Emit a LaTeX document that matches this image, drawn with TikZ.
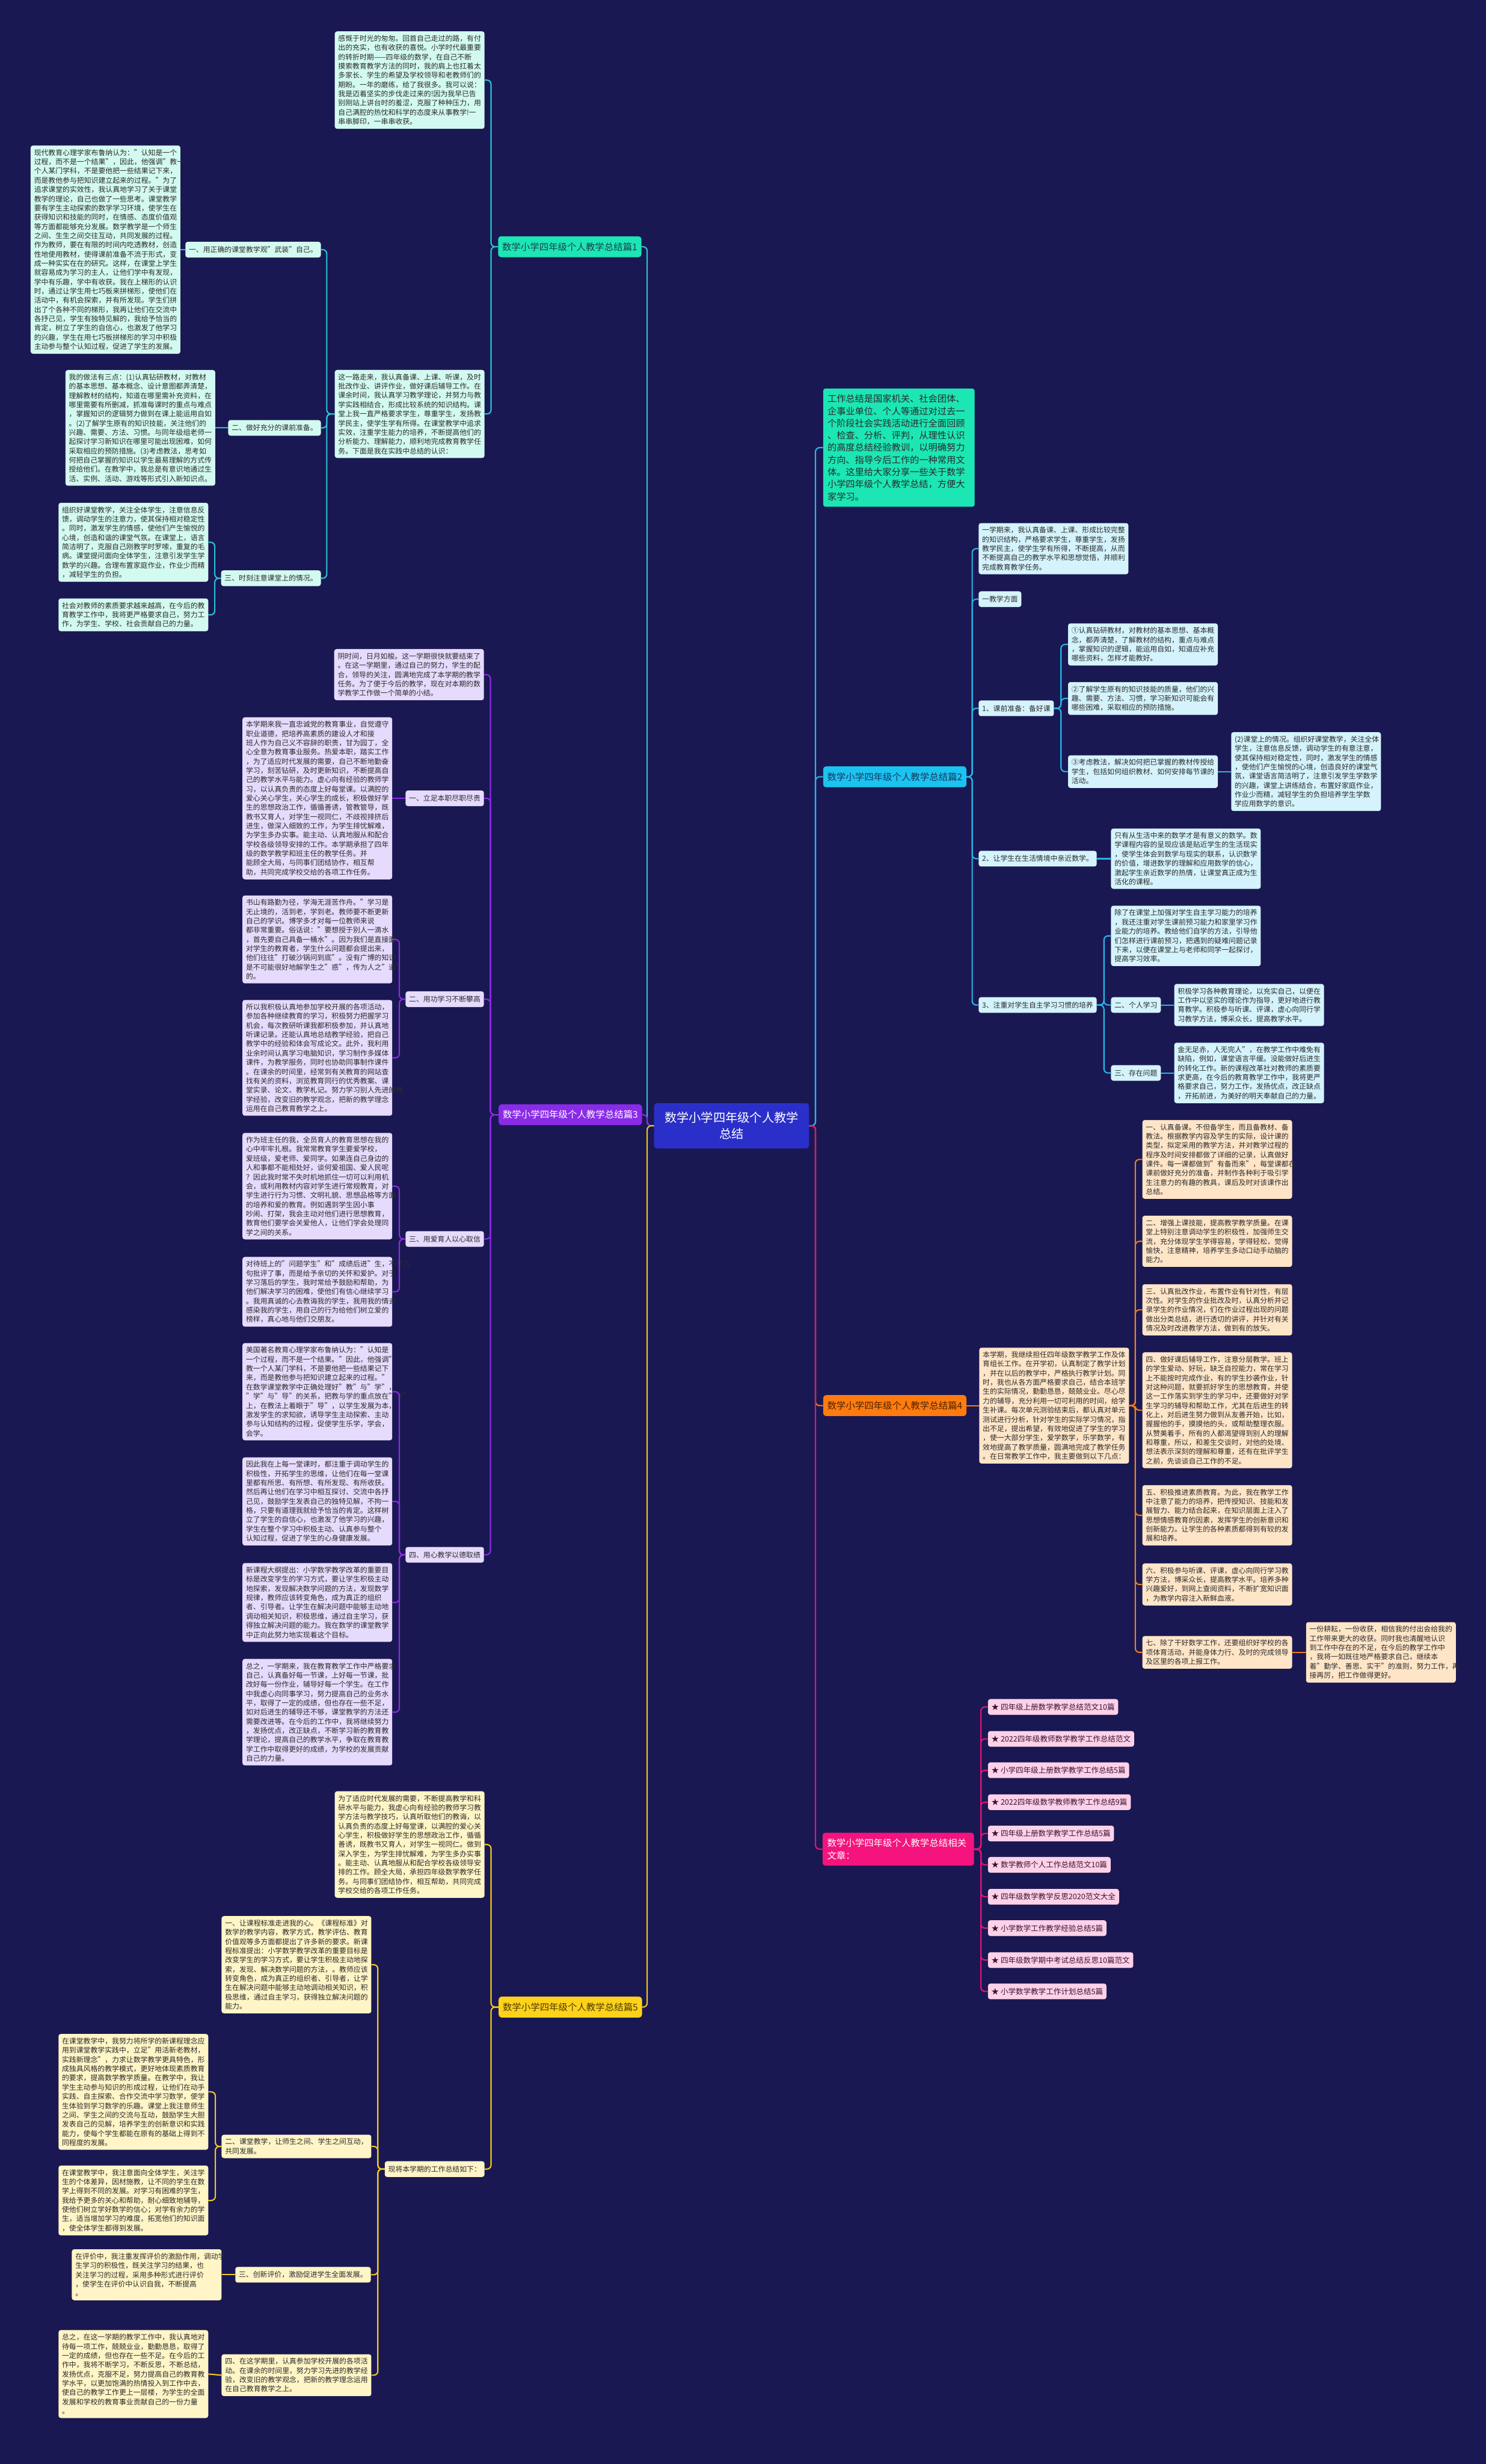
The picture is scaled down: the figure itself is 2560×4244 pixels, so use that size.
\documentclass[tikz,border=0pt]{standalone}
\usepackage{fontspec}
\setmainfont{Noto Sans CJK SC}
\definecolor{bg}{HTML}{1A1852}
\definecolor{tx}{HTML}{2B2B2B}
\definecolor{cen}{HTML}{2B2FC9}
% branch 1 (teal)
\definecolor{brA}{HTML}{1CE6B4}
\definecolor{bxA}{HTML}{D3FAF0}
\definecolor{lnA}{HTML}{2BC2D6}
\definecolor{tA}{HTML}{1E3E4E}
% branch 2 (blue)
\definecolor{brB}{HTML}{1BC3F0}
\definecolor{bxB}{HTML}{D4F3FC}
\definecolor{lnB}{HTML}{27B6E8}
\definecolor{tB}{HTML}{17375E}
% branch 3 (purple)
\definecolor{brC}{HTML}{8A2BE8}
\definecolor{bxC}{HTML}{E6DBFD}
\definecolor{lnC}{HTML}{8A2BE8}
% branch 4 (orange)
\definecolor{brD}{HTML}{FF7B0F}
\definecolor{bxD}{HTML}{FFE5C8}
\definecolor{lnD}{HTML}{F07E1E}
\definecolor{tD}{HTML}{4A2200}
% related (magenta)
\definecolor{brE}{HTML}{F5137D}
\definecolor{bxE}{HTML}{FDD2E8}
\definecolor{lnE}{HTML}{E0157A}
\definecolor{tE}{HTML}{3A1030}
% branch 5 (yellow)
\definecolor{brF}{HTML}{FFD21A}
\definecolor{bxF}{HTML}{FFF5C6}
\definecolor{lnF}{HTML}{F2C81E}
\definecolor{tF}{HTML}{4A3A00}
\newcommand{\fb}{\fontsize{12.3pt}{15.9pt}\selectfont}
\newcommand{\fbr}{\fontsize{16pt}{21pt}\selectfont}
\newcommand{\fit}{\fontsize{13pt}{16pt}\selectfont}
\newcommand{\fgr}{\fontsize{15.8pt}{21pt}\selectfont}
\newcommand{\fcn}{\fontsize{21pt}{28pt}\selectfont}
\tikzset{
  bx/.style={rounded corners=4pt, inner xsep=6pt, inner ysep=6.5pt, align=left, text width=246pt, font=\fb, text=tx},
  lb/.style={rounded corners=4pt, inner xsep=6pt, inner ysep=0pt, minimum height=27pt, font=\fb, text=tx},
  brn/.style={rounded corners=5pt, inner xsep=7pt, inner ysep=0pt, minimum height=36pt, font=\fbr},
  itm/.style={rounded corners=4pt, inner xsep=6pt, inner ysep=0pt, minimum height=27pt, font=\fit, text=tE, fill=bxE},
  eA/.style={draw=lnA, line width=2.2pt, rounded corners=7pt},
  eB/.style={draw=lnB, line width=2.2pt, rounded corners=7pt},
  eC/.style={draw=lnC, line width=2.2pt, rounded corners=7pt},
  eD/.style={draw=lnD, line width=2.2pt, rounded corners=7pt},
  eE/.style={draw=lnE, line width=2.2pt, rounded corners=7pt},
  eF/.style={draw=lnF, line width=2.2pt, rounded corners=7pt},
}
\begin{document}
\begin{tikzpicture}[x=1pt,y=-1pt]
\fill[bg] (0,0) rectangle (2560,4244);
\useasboundingbox (0,0) rectangle (2560,4244);

% spines
\coordinate (sL) at (1115,0);
\coordinate (sR) at (1405,0);
\coordinate (s1) at (846,0);
\coordinate (sA) at (563,0);
\coordinate (sB) at (370,0);
\coordinate (s3) at (845,0);
\coordinate (s3k) at (688,0);
\coordinate (s2) at (1675,0);
\coordinate (s2c) at (1828,0);
\coordinate (s2e) at (1902,0);
\coordinate (s4) at (1956,0);
\coordinate (sr) at (1690,0);
\coordinate (s5) at (846,0);
\coordinate (s5e) at (651,0);
\coordinate (s5f) at (371,0);

% center
\node[fill=cen, text=white, rounded corners=5pt, minimum width=267pt, minimum height=78pt, align=center, font=\fcn, inner sep=0pt] (c) at (1260.5,1939) {数学小学四年级个人教学\\总结};

% ================= Branch 1 =================
\node[brn, fill=brA, text=tA, anchor=west] (b1) at (858,425) {数学小学四年级个人教学总结篇1};
\node[bx, fill=bxA, anchor=east] (T1) at (835,138) {感慨于时光的匆匆。回首自己走过的路，有付\\出的充实，也有收获的喜悦。小学时代最重要\\的转折时期——四年级的数学，在自己不断\\摸索教育教学方法的同时，我的肩上也扛着太\\多家长、学生的希望及学校领导和老教师们的\\期盼。一年的磨练，给了我很多。我可以说：\\我是迈着坚实的步伐走过来的!因为我早已告\\别刚站上讲台时的羞涩，克服了种种压力，用\\自己满腔的热忱和科学的态度来从事教学!一\\串串脚印，一串串收获。};
\node[bx, fill=bxA, anchor=east] (T2) at (835,713) {这一路走来，我认真备课、上课、听课，及时\\批改作业、讲评作业，做好课后辅导工作。在\\课余时间，我认真学习教学理论，并努力与教\\学实践相结合，形成比较系统的知识结构。课\\堂上我一直严格要求学生，尊重学生，发扬教\\学民主，使学生学有所得。在课堂教学中追求\\实效，注重学生能力的培养，不断提高他们的\\分析能力、理解能力，顺利地完成教育教学任\\务。下面是我在实践中总结的认识：};
\node[lb, fill=bxA, anchor=east] (a1) at (553,430) {一、用正确的课堂教学观"武装"自己。};
\node[lb, fill=bxA, anchor=east] (a2) at (553,737) {二、做好充分的课前准备。};
\node[lb, fill=bxA, anchor=east] (a3) at (553,996) {三、时刻注意课堂上的情况。};
\node[bx, fill=bxA, anchor=east] (L1) at (311,430) {现代教育心理学家布鲁纳认为："认知是一个\\过程，而不是一个结果"，因此，他强调"教一\\个人某门学科，不是要他把一些结果记下来，\\而是教他参与把知识建立起来的过程。"为了\\追求课堂的实效性，我认真地学习了关于课堂\\教学的理论，自己也做了一些思考。课堂教学\\要有学生主动探索的数学学习环境，使学生在\\获得知识和技能的同时，在情感、态度价值观\\等方面都能够充分发展。数学教学是一个师生\\之间、生生之间交往互动，共同发展的过程。\\作为教师，要在有限的时间内吃透教材，创造\\性地使用教材，使得课前准备不流于形式，变\\成一种实实在在的研究。这样，在课堂上学生\\就容易成为学习的主人，让他们学中有发现，\\学中有乐趣，学中有收获。我在上梯形的认识\\时，通过让学生用七巧板来拼梯形，使他们在\\活动中，有机会探索，并有所发现。学生们拼\\出了个各种不同的梯形，我再让他们在交流中\\各抒己见，学生有独特见解的，我给予恰当的\\肯定，树立了学生的自信心，也激发了他学习\\的兴趣，学生在用七巧板拼梯形的学习中积极\\主动参与整个认知过程，促进了学生的发展。};
\node[bx, fill=bxA, anchor=east] (L2) at (371,737) {我的做法有三点：(1)认真钻研教材，对教材\\的基本思想、基本概念、设计意图都弄清楚，\\理解教材的结构，知道在哪里需补充资料，在\\哪里需要有所删减，抓准每课时的重点与难点\\，掌握知识的逻辑努力做到在课上能运用自如\\。(2)了解学生原有的知识技能，关注他们的\\兴趣、需要、方法、习惯。与同年级组老师一\\起探讨学习新知识在哪里可能出现困难，如何\\采取相应的预防措施。(3)考虑教法，思考如\\何把自己掌握的知识以学生最易理解的方式传\\授给他们。在教学中，我总是有意识地通过生\\活、实例、活动、游戏等形式引入新知识点。};
\node[bx, fill=bxA, anchor=east] (L3a) at (359,934) {组织好课堂教学，关注全体学生，注意信息反\\馈，调动学生的注意力，使其保持相对稳定性\\。同时，激发学生的情感，使他们产生愉悦的\\心境，创造和谐的课堂气氛。在课堂上，语言\\简洁明了，克服自己刚教学时罗嗦，重复的毛\\病。课堂提问面向全体学生，注意引发学生学\\数学的兴趣。合理布置家庭作业，作业少而精\\，减轻学生的负担。};
\node[bx, fill=bxA, anchor=east] (L3b) at (359,1059) {社会对教师的素质要求越来越高，在今后的教\\育教学工作中，我将更严格要求自己，努力工\\作，为学生、学校、社会贡献自己的力量。};

% ================= Branch 3 =================
\node[brn, fill=brC, text=white, anchor=west] (b3) at (859,1920) {数学小学四年级个人教学总结篇3};
\node[bx, fill=bxC, anchor=east] (P0) at (834,1162) {阴时间，日月如梭。这一学期很快就要结束了\\。在这一学期里，通过自己的努力，学生的配\\合，领导的关注，圆满地完成了本学期的教学\\任务。为了便于今后的教学，现在对本期的数\\学教学工作做一个简单的小结。};
\node[lb, fill=bxC, anchor=east] (k1) at (834,1375) {一、立足本职尽职尽责};
\node[lb, fill=bxC, anchor=east] (k2) at (834,1721) {二、用功学习不断攀高};
\node[lb, fill=bxC, anchor=east] (k3) at (834,2134) {三、用爱育人以心取信};
\node[lb, fill=bxC, anchor=east] (k4) at (834,2678) {四、用心教学以德取绩};
\node[bx, fill=bxC, anchor=east] (B31) at (676,1375) {本学期来我一直忠诚党的教育事业，自觉遵守\\职业道德，把培养高素质的建设人才和接\\班人作为自己义不容辞的职责，甘为园丁，全\\心全意为教育事业服务。热爱本职，踏实工作\\，为了适应时代发展的需要，自己不断地勤奋\\学习，刻苦钻研，及时更新知识，不断提高自\\己的教学水平与能力。虚心向有经验的教师学\\习，以认真负责的态度上好每堂课。以满腔的\\爱心关心学生，关心学生的成长，积极做好学\\生的思想政治工作，循循善诱，管教管导，既\\教书又育人，对学生一视同仁，不歧视排挤后\\进生，做深入细致的工作，为学生排忧解难，\\为学生多办实事。能主动、认真地服从和配合\\学校各级领导安排的工作。本学期承担了四年\\级的数学教学和班主任的教学任务。并\\能顾全大局，与同事们团结协作，相互帮\\助，共同完成学校交给的各项工作任务。};
\node[bx, fill=bxC, anchor=east] (B32a) at (676,1618) {书山有路勤为径，学海无涯苦作舟。"学习是\\无止境的，活到老，学到老。教师要不断更新\\自己的学识。博学多才对每一位教师来说\\都非常重要。俗话说："要想授于别人一滴水\\，首先要自己具备一桶水"。因为我们是直接面\\对学生的教育者，学生什么问题都会提出来，\\他们往往"打破沙锅问到底"。没有广博的知识\\是不可能很好地解学生之"惑"，传为人之"道"\\的。};
\node[bx, fill=bxC, anchor=east] (B32b) at (676,1822) {所以我积极认真地参加学校开展的各项活动，\\参加各种继续教育的学习，积极努力把握学习\\机会，每次教研听课我都积极参加，并认真地\\听课记录。还能认真地总结教学经验，把自己\\教学中的经验和体会写成论文。此外，我利用\\业余时间认真学习电脑知识，学习制作多媒体\\课件，为教学服务，同时也协助同事制作课件\\。在课余的时间里，经常到有关教育的网站查\\找有关的资料，浏览教育同行的优秀教案、课\\堂实录、论文、教学札记。努力学习别人先进的教\\学经验，改变旧的教学观念，把新的教学理念\\运用在自己教育教学之上。};
\node[bx, fill=bxC, anchor=east] (B33a) at (676,2043) {作为班主任的我，全员育人的教育思想在我的\\心中牢牢扎根。我常常教育学生要爱学校，\\爱班级，爱老师、爱同学。如果连自己身边的\\人和事都不能相处好，谈何爱祖国、爱人民呢\\？因此我时常不失时机地抓住一切可以利用机\\会，或利用教材内容对学生进行常规教育，对\\学生进行行为习惯、文明礼貌、思想品格等方面\\的培养和爱的教育。例如遇到学生因小事\\吵闹、打架，我会主动对他们进行思想教育，\\教育他们要学会关爱他人，让他们学会处理同\\学之间的关系。};
\node[bx, fill=bxC, anchor=east] (B33b) at (676,2225) {对待班上的"问题学生"和"成绩后进"生，不是几\\句批评了事，而是给予亲切的关怀和爱护。对于\\学习落后的学生，我时常给予鼓励和帮助，为\\他们解决学习的困难，使他们有信心继续学习\\。我用真诚的心去教诲我的学生，我用我的情去\\感染我的学生，用自己的行为给他们树立爱的\\榜样，真心地与他们交朋友。};
\node[bx, fill=bxC, anchor=east] (B34a) at (676,2397) {美国著名教育心理学家布鲁纳认为："认知是\\一个过程，而不是一个结果。"因此，他强调"\\教一个人某门学科，不是要他把一些结果记下\\来，而是教他参与把知识建立起来的过程。"\\在数学课堂教学中正确处理好"教"与"学"，\\"学"与"导"的关系，把教与学的重点放在"学"\\上，在教法上着眼于"导"，以学生发展为本，\\激发学生的求知欲，诱导学生主动探索、主动\\参与认知结构的过程，促使学生乐学，学会，\\会学。};
\node[bx, fill=bxC, anchor=east] (B34b) at (676,2586) {因此我在上每一堂课时，都注重于调动学生的\\积极性，开拓学生的思维，让他们在每一堂课\\里都有所思、有所想、有所发现、有所收获。\\然后再让他们在学习中相互探讨、交流中各抒\\己见，鼓励学生发表自己的独特见解，不拘一\\格，只要有道理我就给予恰当的肯定。这样树\\立了学生的自信心，也激发了他学习的兴趣，\\学生在整个学习中积极主动、认真参与整个\\认知过程，促进了学生的心身健康发展。};
\node[bx, fill=bxC, anchor=east] (B34c) at (676,2760) {新课程大纲提出：小学数学教学改革的重要目\\标是改变学生的学习方式，要让学生积极主动\\地探索，发现解决数学问题的方法，发现数学\\规律，教师应该转变角色，成为真正的组织\\者、引导者。让学生在解决问题中能够主动地\\调动相关知识，积极思维，通过自主学习，获\\得独立解决问题的能力。我在数学的课堂教学\\中正向此努力地实现着这个目标。};
\node[bx, fill=bxC, anchor=east] (B34d) at (676,2949) {总之，一学期来，我在教育教学工作中严格要求\\自己，认真备好每一节课，上好每一节课，批\\改好每一份作业，辅导好每一个学生。在工作\\中我虚心向同事学习，努力提高自己的业务水\\平，取得了一定的成绩，但也存在一些不足，\\如对后进生的辅导还不够，课堂教学的方法还\\需要改进等。在今后的工作中，我将继续努力\\，发扬优点，改正缺点，不断学习新的教育教\\学理论，提高自己的教学水平，争取在教育教\\学工作中取得更好的成绩，为学校的发展贡献\\自己的力量。};

% ================= Branch 2 =================
\node[fill=brA, text=tx, rounded corners=4pt, inner xsep=7.5pt, inner ysep=10.5pt, align=left, text width=246pt, font=\fgr, anchor=west] (G) at (1418,771) {工作总结是国家机关、社会团体、\\企事业单位、个人等通过对过去一\\个阶段社会实践活动进行全面回顾\\、检查、分析、评判，从理性认识\\的高度总结经验教训，以明确努力\\方向、指导今后工作的一种常用文\\体。这里给大家分享一些关于数学\\小学四年级个人教学总结，方便大\\家学习。};
\node[brn, fill=brB, text=tB, anchor=west] (b2) at (1418,1338) {数学小学四年级个人教学总结篇2};
\node[bx, fill=bxB, anchor=west] (C1) at (1686,945) {一学期来，我认真备课、上课、形成比较完整\\的知识结构，严格要求学生，尊重学生，发扬\\教学民主，使学生学有所得，不断提高，从而\\不断提高自己的教学水平和思想觉悟，并顺利\\完成教育教学任务。};
\node[lb, fill=bxB, anchor=west] (C2) at (1686,1032) {一教学方面};
\node[lb, fill=bxB, anchor=west] (C3) at (1686,1220) {1、课前准备：备好课};
\node[bx, fill=bxB, anchor=west] (C3a) at (1840,1110) {①认真钻研教材，对教材的基本思想、基本概\\念，都弄清楚，了解教材的结构，重点与难点\\，掌握知识的逻辑，能运用自如，知道应补充\\哪些资料，怎样才能教好。};
\node[bx, fill=bxB, anchor=west] (C3b) at (1840,1203) {②了解学生原有的知识技能的质量，他们的兴\\趣、需要、方法、习惯，学习新知识可能会有\\哪些困难，采取相应的预防措施。};
\node[bx, fill=bxB, anchor=west] (C3c) at (1840,1329) {③考虑教法，解决如何把已掌握的教材传授给\\学生，包括如何组织教材、如何安排每节课的\\活动。};
\node[bx, fill=bxB, anchor=west] (C3d) at (2121,1329) {(2)课堂上的情况。组织好课堂教学，关注全体\\学生，注意信息反馈，调动学生的有意注意，\\使其保持相对稳定性，同时，激发学生的情感\\，使他们产生愉悦的心境，创造良好的课堂气\\氛，课堂语言简洁明了，注意引发学生学数学\\的兴趣，课堂上讲练结合，布置好家庭作业，\\作业少而精，减轻学生的负担培养学生学数\\学应用数学的意识。};
\node[lb, fill=bxB, anchor=west] (C4) at (1686,1479) {2、让学生在生活情境中亲近数学。};
\node[bx, fill=bxB, anchor=west] (C4a) at (1914,1479) {只有从生活中来的数学才是有意义的数学。数\\学课程内容的呈现应该是贴近学生的生活现实\\，使学生体会到数学与现实的联系，认识数学\\的价值，增进数学的理解和应用数学的信心，\\激起学生亲近数学的热情，让课堂真正成为生\\活化的课程。};
\node[lb, fill=bxB, anchor=west] (C5) at (1686,1731) {3、注重对学生自主学习习惯的培养};
\node[bx, fill=bxB, anchor=west] (C5a) at (1914,1612) {除了在课堂上加强对学生自主学习能力的培养\\，我还注重对学生课前预习能力和家里学习作\\业能力的培养。教给他们自学的方法，引导他\\们怎样进行课前预习，把遇到的疑难问题记录\\下来，以便在课堂上与老师和同学一起探讨，\\提高学习效率。};
\node[lb, fill=bxB, anchor=west] (C5b) at (1914,1731) {二、个人学习};
\node[lb, fill=bxB, anchor=west] (C5c) at (1914,1848) {三、存在问题};
\node[bx, fill=bxB, anchor=west] (C5bx) at (2023,1731) {积极学习各种教育理论，以充实自己，以便在\\工作中以坚实的理论作为指导，更好地进行教\\育教学。积极参与听课、评课，虚心向同行学\\习教学方法，博采众长，提高教学水平。};
\node[bx, fill=bxB, anchor=west] (C5cx) at (2023,1848) {金无足赤，人无完人"，在教学工作中难免有\\缺陷，例如，课堂语言平缓。没能做好后进生\\的转化工作。新的课程改革社对教师的素质要\\求更高，在今后的教育教学工作中，我将更严\\格要求自己，努力工作，发扬优点，改正缺点\\，开拓前进，为美好的明天奉献自己的力量。};

% ================= Branch 4 =================
\node[brn, fill=brD, text=tD, anchor=west] (b4) at (1418,2421) {数学小学四年级个人教学总结篇4};
\node[bx, fill=bxD, anchor=west] (D0) at (1687,2421) {本学期，我继续担任四年级数学教学工作及体\\育组长工作。在开学初，认真制定了教学计划\\，并在以后的教学中，严格执行教学计划。同\\时，我也从各方面严格要求自己，结合本班学\\生的实际情况，勤勤恳恳，兢兢业业。尽心尽\\力的辅导，充分利用一切可利用的时间，给学\\生补课。每次单元测验结束后，都认真对单元\\测试进行分析，针对学生的实际学习情况，指\\出不足，提出希望，有效地促进了学生的学习\\，使一大部分学生，爱学数学，乐学数学，有\\效地提高了教学质量，圆满地完成了教学任务\\。在日常教学工作中，我主要做到以下几点：};
\node[bx, fill=bxD, anchor=west] (D1) at (1968,1997) {一、认真备课。不但备学生，而且备教材、备\\教法。根据教学内容及学生的实际，设计课的\\类型，拟定采用的教学方法，并对教学过程的\\程序及时间安排都做了详细的记录，认真做好\\课件。每一课都做到"有备而来"，每堂课都在\\课前做好充分的准备，并制作各种利于吸引学\\生注意力的有趣的教具，课后及时对该课作出\\总结。};
\node[bx, fill=bxD, anchor=west] (D2) at (1968,2138) {二、增强上课技能，提高教学教学质量。在课\\堂上特别注意调动学生的积极性，加强师生交\\流，充分体现学生学得容易，学得轻松，觉得\\愉快，注意精神，培养学生多动口动手动脑的\\能力。};
\node[bx, fill=bxD, anchor=west] (D3) at (1968,2256) {三、认真批改作业，布置作业有针对性，有层\\次性。对学生的作业批改及时，认真分析并记\\录学生的作业情况，们在作业过程出现的问题\\做出分类总结，进行透切的讲评，并针对有关\\情况及时改进教学方法，做到有的放矢。};
\node[bx, fill=bxD, anchor=west] (D4) at (1968,2429) {四、做好课后辅导工作，注意分层教学。班上\\的学生爱动、好玩，缺乏自控能力，常在学习\\上不能按时完成作业，有的学生抄袭作业，针\\对这种问题，就要抓好学生的思想教育，并使\\这一工作落实到学生的学习中，还要做好对学\\生学习的辅导和帮助工作，尤其在后进生的转\\化上，对后进生努力做到从友善开始，比如，\\握握他的手，摸摸他的头，或帮助整理衣服。\\从赞美着手，所有的人都渴望得到别人的理解\\和尊重，所以，和差生交谈时，对他的处境、\\想法表示深刻的理解和尊重，还有在批评学生\\之前，先谈谈自己工作的不足。};
\node[bx, fill=bxD, anchor=west] (D5) at (1968,2610) {五、积极推进素质教育。为此，我在教学工作\\中注意了能力的培养，把传授知识、技能和发\\展智力、能力结合起来，在知识层面上注入了\\思想情感教育的因素，发挥学生的创新意识和\\创新能力。让学生的各种素质都得到有较的发\\展和培养。};
\node[bx, fill=bxD, anchor=west] (D6) at (1968,2729) {六、积极参与听课、评课，虚心向同行学习教\\学方法，博采众长，提高教学水平。培养多种\\兴趣爱好，到网上查阅资料，不断扩宽知识面\\，为教学内容注入新鲜血液。};
\node[bx, fill=bxD, anchor=west] (D7) at (1968,2846) {七、除了干好数学工作，还要组织好学校的各\\项体育活动，并能身体力行、及时的完成领导\\及区里的各项上报工作。};
\node[bx, fill=bxD, anchor=west] (D7c) at (2250,2846) {一份耕耘，一份收获，相信我的付出会给我的\\工作带来更大的收获。同时我也清醒地认识\\到工作中存在的不足，在今后的教学工作中\\，我将一如既往地严格要求自己，继续本\\着"勤学、善思、实干"的准则，努力工作，再\\接再厉，把工作做得更好。};

% ================= Related =================
\node[fill=brE, text=white, rounded corners=5pt, inner xsep=8pt, inner ysep=10.5pt, align=left, text width=245pt, font=\fbr, anchor=west] (rel) at (1417,3185) {数学小学四年级个人教学总结相关\\文章：};
\node[itm, anchor=west] (r1) at (1702,2940) {★ 四年级上册数学教学总结范文10篇};
\node[itm, anchor=west] (r2) at (1702,2995) {★ 2022四年级教师数学教学工作总结范文};
\node[itm, anchor=west] (r3) at (1702,3049) {★ 小学四年级上册数学教学工作总结5篇};
\node[itm, anchor=west] (r4) at (1702,3104) {★ 2022四年级数学教师教学工作总结9篇};
\node[itm, anchor=west] (r5) at (1702,3158) {★ 四年级上册数学教学工作总结5篇};
\node[itm, anchor=west] (r6) at (1702,3212) {★ 数学教师个人工作总结范文10篇};
\node[itm, anchor=west] (r7) at (1702,3267) {★ 四年级数学教学反思2020范文大全};
\node[itm, anchor=west] (r8) at (1702,3321) {★ 小学数学工作教学经验总结5篇};
\node[itm, anchor=west] (r9) at (1702,3376) {★ 四年级数学期中考试总结反思10篇范文};
\node[itm, anchor=west] (r10) at (1702,3430) {★ 小学数学教学工作计划总结5篇};

% ================= Branch 5 =================
\node[brn, fill=brF, text=tF, anchor=west] (b5) at (859,3457) {数学小学四年级个人教学总结篇5};
\node[bx, fill=bxF, anchor=east] (E0) at (835,3177) {为了适应时代发展的需要，不断提高教学和科\\研水平与能力，我虚心向有经验的教师学习教\\学方法与教学技巧，认真听取他们的教诲，以\\认真负责的态度上好每堂课，以满腔的爱心关\\心学生，积极做好学生的思想政治工作，循循\\善诱，既教书又育人，对学生一视同仁。做到\\深入学生，为学生排忧解难，为学生多办实事\\。能主动、认真地服从和配合学校各级领导安\\排的工作。顾全大局，承担四年级数学教学任\\务。与同事们团结协作，相互帮助，共同完成\\学校交给的各项工作任务。};
\node[lb, fill=bxF, anchor=east] (E1) at (835,3736) {现将本学期的工作总结如下：};
\node[bx, fill=bxF, anchor=east] (E1a) at (640,3384) {一、让课程标准走进我的心。《课程标准》对\\数学的教学内容，教学方式，教学评估、教育\\价值观等多方面都提出了许多新的要求。新课\\程标准提出：小学数学教学改革的重要目标是\\改变学生的学习方式，要让学生积极主动地探\\索，发现、解决数学问题的方法，。教师应该\\转变角色，成为真正的组织者、引导者，让学\\生在解决问题中能够主动地调动相关知识，积\\极思维，通过自主学习，获得独立解决问题的\\能力。};
\node[bx, fill=bxF, anchor=east] (E1b) at (640,3697) {二、课堂教学，让师生之间、学生之间互动，\\共同发展。};
\node[lb, fill=bxF, anchor=east] (E1c) at (639,3918) {三、创新评价，激励促进学生全面发展。};
\node[bx, fill=bxF, anchor=east] (E1d) at (640,4091) {四、在这学期里，认真参加学校开展的各项活\\动。在课余的时间里，努力学习先进的教学经\\验，改变旧的教学观念，把新的教学理念运用\\在自己教育教学之上。};
\node[bx, fill=bxF, anchor=east] (F1) at (359,3603) {在课堂教学中，我努力将所学的新课程理念应\\用到课堂教学实践中，立足"用活新老教材，\\实践新理念"，力求让数学教学更具特色，形\\成独具风格的教学模式，更好地体现素质教育\\的要求，提高数学教学质量。在教学中，我让\\学生主动参与知识的形成过程，让他们在动手\\实践、自主探索、合作交流中学习数学，使学\\生体验到学习数学的乐趣。课堂上我注意师生\\之间、学生之间的交流与互动，鼓励学生大胆\\发表自己的见解，培养学生的创新意识和实践\\能力，使每个学生都能在原有的基础上得到不\\同程度的发展。};
\node[bx, fill=bxF, anchor=east] (F2) at (359,3790) {在课堂教学中，我注意面向全体学生，关注学\\生的个体差异，因材施教，让不同的学生在数\\学上得到不同的发展。对学习有困难的学生，\\我给予更多的关心和帮助，耐心细致地辅导，\\使他们树立学好数学的信心；对学有余力的学\\生，适当增加学习的难度，拓宽他们的知识面\\，使全体学生都得到发展。};
\node[bx, fill=bxF, anchor=east] (G1) at (382,3918) {在评价中，我注重发挥评价的激励作用，调动学\\生学习的积极性，既关注学习的结果，也\\关注学习的过程，采用多种形式进行评价\\，使学生在评价中认识自我，不断提高\\。};
\node[bx, fill=bxF, anchor=east] (H1) at (359,4089) {总之，在这一学期的教学工作中，我认真地对\\待每一项工作，兢兢业业，勤勤恳恳，取得了\\一定的成绩，但也存在一些不足。在今后的工\\作中，我将不断学习，不断反思，不断总结，\\发扬优点，克服不足，努力提高自己的教育教\\学水平，以更加饱满的热情投入到工作中去，\\使自己的教学工作更上一层楼，为学生的全面\\发展和学校的教育事业贡献自己的一份力量\\。};

% ================= Edges =================
% center
\draw[eA] (c.west) -- (c.west -| sL) |- (b1.east);
\draw[eC] (c.west) -- (c.west -| sL) |- (b3.east);
\draw[eF] (c.west) -- (c.west -| sL) |- (b5.east);
\draw[eB] (c.east) -- (c.east -| sR) |- (G.west);
\draw[eB] (c.east) -- (c.east -| sR) |- (b2.west);
\draw[eD] (c.east) -- (c.east -| sR) |- (b4.west);
\draw[eE] (c.east) -- (c.east -| sR) |- (rel.west);
% branch 1
\draw[eA] (b1.west) -- (b1.west -| s1) |- (T1.east);
\draw[eA] (b1.west) -- (b1.west -| s1) |- (T2.east);
\foreach \n in {a1,a2,a3} \draw[eA] (T2.west) -- (T2.west -| sA) |- (\n.east);
\draw[eA] (a1.west) -- (L1.east);
\draw[eA] (a2.west) -- (L2.east);
\draw[eA] (a3.west) -- (a3.west -| sB) |- (L3a.east);
\draw[eA] (a3.west) -- (a3.west -| sB) |- (L3b.east);
% branch 3
\foreach \n in {P0,k1,k2,k3,k4} \draw[eC] (b3.west) -- (b3.west -| s3) |- (\n.east);
\draw[eC] (k1.west) -- (B31.east);
\foreach \n in {B32a,B32b} \draw[eC] (k2.west) -- (k2.west -| s3k) |- (\n.east);
\foreach \n in {B33a,B33b} \draw[eC] (k3.west) -- (k3.west -| s3k) |- (\n.east);
\foreach \n in {B34a,B34b,B34c,B34d} \draw[eC] (k4.west) -- (k4.west -| s3k) |- (\n.east);
% branch 2
\foreach \n in {C1,C2,C3,C4,C5} \draw[eB] (b2.east) -- (b2.east -| s2) |- (\n.west);
\foreach \n in {C3a,C3b,C3c} \draw[eB] (C3.east) -- (C3.east -| s2c) |- (\n.west);
\draw[eB] (C3c.east) -- (C3d.west);
\draw[eB] (C4.east) -- (C4a.west);
\foreach \n in {C5a,C5b,C5c} \draw[eB] (C5.east) -- (C5.east -| s2e) |- (\n.west);
\draw[eB] (C5b.east) -- (C5bx.west);
\draw[eB] (C5c.east) -- (C5cx.west);
% branch 4
\draw[eD] (b4.east) -- (D0.west);
\foreach \n in {D1,D2,D3,D4,D5,D6,D7} \draw[eD] (D0.east) -- (D0.east -| s4) |- (\n.west);
\draw[eD] (D7.east) -- (D7c.west);
% related
\foreach \n in {r1,r2,r3,r4,r5,r6,r7,r8,r9,r10} \draw[eE] (rel.east) -- (rel.east -| sr) |- (\n.west);
% branch 5
\draw[eF] (b5.west) -- (b5.west -| s5) |- (E0.east);
\draw[eF] (b5.west) -- (b5.west -| s5) |- (E1.east);
\foreach \n in {E1a,E1b,E1c,E1d} \draw[eF] (E1.west) -- (E1.west -| s5e) |- (\n.east);
\draw[eF] (E1b.west) -- (E1b.west -| s5f) |- (F1.east);
\draw[eF] (E1b.west) -- (E1b.west -| s5f) |- (F2.east);
\draw[eF] (E1c.west) -- (G1.east);
\draw[eF] (E1d.west) -- (H1.east);
\end{tikzpicture}
\end{document}
